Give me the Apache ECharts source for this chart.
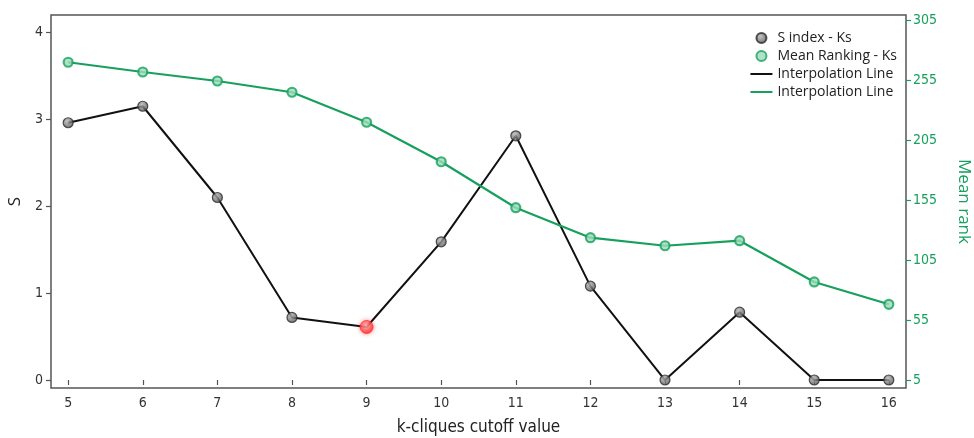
<!DOCTYPE html>
<html><head><meta charset="utf-8">
<script src="https://cdn.jsdelivr.net/npm/echarts@6/dist/echarts.min.js"></script>
<style>html,body{margin:0;padding:0;background:#fff}#c{width:974px;height:438px}</style>
</head><body><div id="c"></div>
<script>
const categories = [5, 6, 7, 8, 9, 10, 11, 12, 13, 14, 15, 16];
const sIndex = [2.96, 3.15, 2.10, 0.72, 0.61, 1.59, 2.81, 1.08, 0.00, 0.78, 0.00, 0.00];
const meanRank = [269.8, 261.7, 254.2, 244.8, 219.8, 186.9, 148.6, 123.6, 116.9, 121.1, 86.7, 68.1];
const xTicks = [5, 6, 7, 8, 9, 10, 11, 12, 13, 14, 15, 16];
const leftTicks = [0, 1, 2, 3, 4];
const rightTicks = [5, 55, 105, 155, 205, 255, 305];
const highlightK = 9;

const GREEN = '#17a05d';
const narrow = "'Liberation Sans Narrow','DejaVu Sans Condensed',sans-serif";
const chart = echarts.init(document.getElementById('c'), null, {renderer: 'canvas'});

const greyBall = {
  color: new echarts.graphic.RadialGradient(0.4, 0.35, 0.7, [
    {offset: 0, color: '#b5b5b5'}, {offset: 1, color: '#4a4a4a'}]),
  borderColor: '#2a2a2a', borderWidth: 1.2
};
const redBall = {
  color: new echarts.graphic.RadialGradient(0.45, 0.4, 0.6, [
    {offset: 0, color: '#ffc0c0'}, {offset: 1, color: '#ff1a1a'}]),
  borderColor: '#ff3030', borderWidth: 1, shadowColor: 'rgba(255,0,0,0.5)', shadowBlur: 5
};
const sPairs = categories.map((k, i) => k === highlightK
  ? {value: [k, sIndex[i]], symbolSize: 13, itemStyle: redBall}
  : {value: [k, sIndex[i]]});
const mPairs = categories.map((k, i) => [k, meanRank[i]]);
const lineIcon = 'path://M0,0 L22,0 L22,2 L0,2 Z';

chart.setOption({
  animation: false,
  textStyle: {fontFamily: "'Open Sans',sans-serif"},
  grid: {left: 51, right: 68, top: 15, bottom: 50, outerBoundsMode: 'none', containLabel: false,
         show: true, borderColor: '#555', borderWidth: 1.5, backgroundColor: 'transparent'},
  legend: {
    orient: 'vertical', right: 72, top: 26, itemGap: 4, itemWidth: 22, itemHeight: 10,
    textStyle: {fontSize: 14, color: '#222', fontFamily: "'Open Sans',sans-serif"},
    data: [
      {name: 'S index - Ks', icon: 'circle'},
      {name: 'Mean Ranking - Ks', icon: 'circle'},
      {name: 'Interpolation Line', icon: lineIcon, itemStyle: {color: '#111'}},
      {name: 'Interpolation Line ', icon: lineIcon, itemStyle: {color: GREEN}}
    ]
  },
  xAxis: {
    type: 'value', min: 4.77, max: 16.23,
    name: 'k-cliques cutoff value', nameLocation: 'middle', nameGap: 31,
    nameTextStyle: {fontSize: 17, color: '#222', fontFamily: narrow},
    axisLine: {show: false}, splitLine: {show: false},
    axisTick: {show: true, customValues: xTicks, length: 5, lineStyle: {color: '#555', width: 1.2}},
    axisLabel: {customValues: xTicks, fontSize: 14, color: '#333', fontFamily: narrow, margin: 8}
  },
  yAxis: [{
    type: 'value', min: -0.092, max: 4.2, position: 'left',
    name: 'S', nameLocation: 'middle', nameGap: 27, nameRotate: 90,
    nameTextStyle: {fontSize: 17, color: '#222', fontFamily: "'Open Sans',sans-serif"},
    axisLine: {show: false}, splitLine: {show: false},
    axisTick: {show: true, customValues: leftTicks, length: 5, lineStyle: {color: '#555', width: 1.2}},
    axisLabel: {customValues: leftTicks, fontSize: 14, color: '#333', fontFamily: narrow, margin: 8}
  }, {
    type: 'value', min: -1.67, max: 309.2, position: 'right',
    name: 'Mean rank', nameLocation: 'middle', nameGap: 49, nameRotate: -90,
    nameTextStyle: {fontSize: 17, color: GREEN, fontFamily: "'Open Sans',sans-serif"},
    axisLine: {show: false}, splitLine: {show: false},
    axisTick: {show: true, customValues: rightTicks, length: 5, lineStyle: {color: GREEN, width: 1.2}},
    axisLabel: {customValues: rightTicks, fontSize: 14, color: GREEN, fontFamily: narrow, margin: 7}
  }],
  series: [
    {name: 'Interpolation Line', type: 'line', yAxisIndex: 0, data: categories.map((k, i) => [k, sIndex[i]]),
     symbol: 'none', lineStyle: {color: '#111', width: 2}, itemStyle: {color: '#111'}, z: 2},
    {name: 'Interpolation Line ', type: 'line', yAxisIndex: 1, data: mPairs,
     symbol: 'none', lineStyle: {color: GREEN, width: 2.2}, itemStyle: {color: GREEN}, z: 2},
    {name: 'S index - Ks', type: 'scatter', yAxisIndex: 0, data: sPairs, symbolSize: 10,
     itemStyle: greyBall, z: 4},
    {name: 'Mean Ranking - Ks', type: 'scatter', yAxisIndex: 1, data: mPairs, symbolSize: 9,
     itemStyle: {color: '#9edbbb', borderColor: GREEN, borderWidth: 2.2}, z: 4}
  ]
});
</script></body></html>
